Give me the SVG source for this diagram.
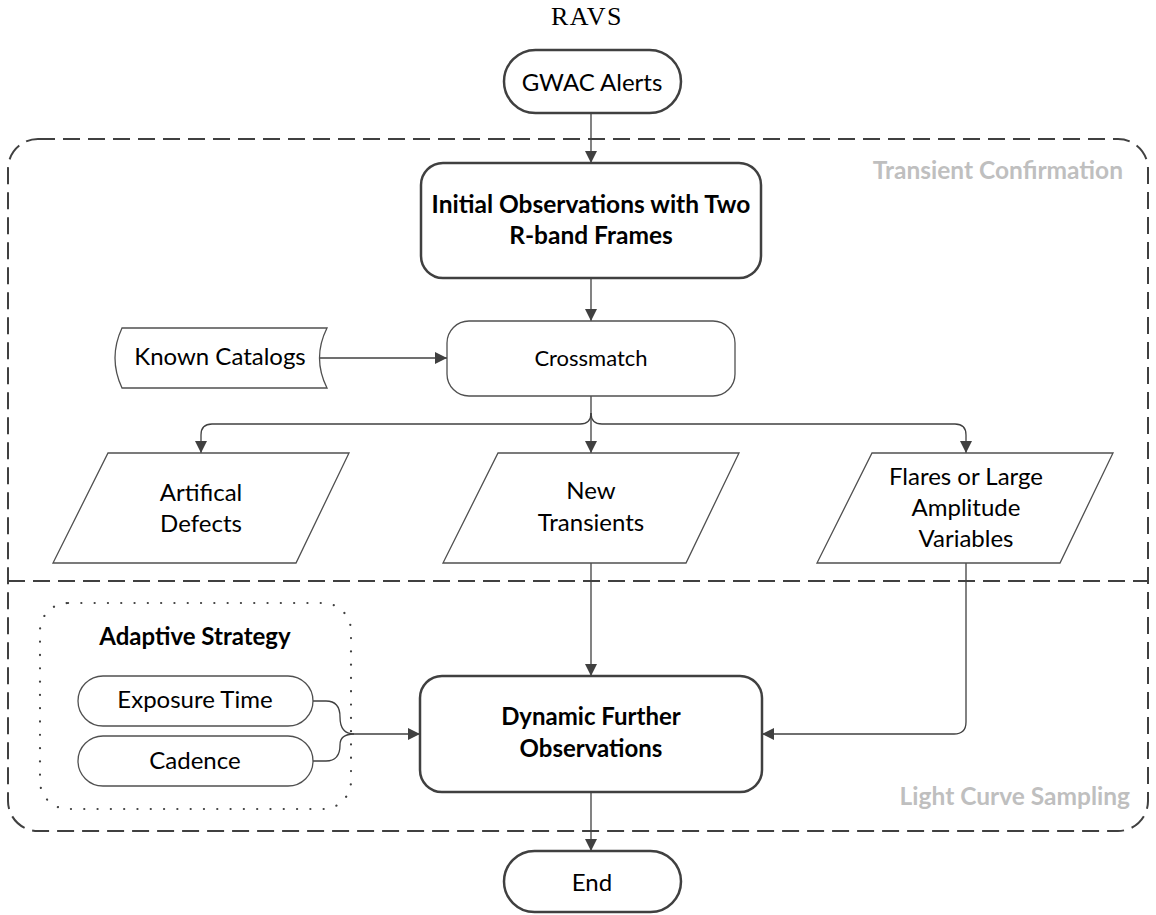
<svg xmlns="http://www.w3.org/2000/svg" width="1156" height="915" viewBox="0 0 1156 915">
<defs>
<marker id="arr" markerUnits="userSpaceOnUse" markerWidth="13" markerHeight="12" refX="12" refY="6" orient="auto">
<path d="M0,0 L12,6 L0,12 z" fill="#404040"/>
</marker>
<style>
.t{font-family:Lato,"Open Sans","Liberation Sans",sans-serif;font-size:24px;fill:#000;text-anchor:middle}
.b{font-weight:bold}
.g{font-family:Lato,"Open Sans","Liberation Sans",sans-serif;font-size:24.5px;font-weight:bold;fill:#bfbfbf;text-anchor:end}
.thick{fill:#fff;stroke:#404040;stroke-width:2.5}
.thin{fill:#fff;stroke:#505050;stroke-width:1.3}
.dash{fill:none;stroke:#404040;stroke-width:2;stroke-dasharray:17 8}
.dot{fill:none;stroke:#404040;stroke-width:2.2;stroke-dasharray:0.1 13.2;stroke-linecap:round}
.c{fill:none;stroke:#404040;stroke-width:1.3}
</style>
</defs>
<rect width="1156" height="915" fill="#fff"/>
<text x="587" y="25" style="font-family:'Liberation Serif',serif;font-size:26px;letter-spacing:1.5px;text-anchor:middle">RAVS</text>

<g id="regions">
<rect class="dash" x="8" y="139" width="1140" height="692" rx="30"/>
<path class="dash" d="M8,581 H1148"/>
<text class="g" x="1123" y="179">Transient Confirmation</text>
<text class="g" x="1130" y="805">Light Curve Sampling</text>
</g>

<g id="adaptive">
<rect class="dot" x="40" y="603" width="311" height="206" rx="28"/>
<text class="t b" x="195" y="645">Adaptive Strategy</text>
</g>

<g id="connectors">
<path class="c" marker-end="url(#arr)" d="M591,113 V163"/>
<path class="c" marker-end="url(#arr)" d="M591,278 V321"/>
<path class="c" marker-end="url(#arr)" d="M318,358 H447"/>
<path class="c" marker-end="url(#arr)" d="M591,396 V453"/>
<path class="c" marker-end="url(#arr)" d="M591,413 Q591,424 580,424 H212 Q201,424 201,435 V453"/>
<path class="c" marker-end="url(#arr)" d="M591,413 Q591,424 602,424 H955 Q966,424 966,435 V453"/>
<path class="c" marker-end="url(#arr)" d="M591,563 V676"/>
<path class="c" marker-end="url(#arr)" d="M966,563 V722 Q966,734 954,734 H762"/>
<path class="c" marker-end="url(#arr)" d="M313,701 H326 Q340,701 340,717 Q340,734 354,734 H420"/>
<path class="c" d="M313,761 H326 Q340,761 340,745 Q340,734 354,734"/>
<path class="c" marker-end="url(#arr)" d="M591,792 V851"/>
</g>

<g id="gwac">
<rect class="thick" x="504" y="50" width="177" height="63" rx="31.5"/>
<text class="t" x="592" y="91">GWAC Alerts</text>
</g>
<g id="initial">
<rect class="thick" x="421" y="163" width="340" height="115" rx="22"/>
<text class="t b" x="591" y="213" style="font-size:24.5px">Initial Observations with Two</text>
<text class="t b" x="591" y="244" style="font-size:24.5px">R-band Frames</text>
</g>
<g id="catalogs">
<path class="thin" d="M122,328 H327 Q312,358 327,388 H122 Q108,358 122,328 Z"/>
<text class="t" x="220" y="365">Known Catalogs</text>
</g>
<g id="crossmatch">
<rect class="thin" x="447" y="321" width="288" height="75" rx="22"/>
<text class="t" x="591" y="366" style="font-size:22px">Crossmatch</text>
</g>
<g id="artifical">
<path class="thin" d="M108,453 H349 L296,563 H53 Z"/>
<text class="t" x="201" y="501">Artifical</text>
<text class="t" x="201" y="532">Defects</text>
</g>
<g id="newtransients">
<path class="thin" d="M498,453 H739 L686,563 H443 Z"/>
<text class="t" x="591" y="499">New</text>
<text class="t" x="591" y="531">Transients</text>
</g>
<g id="flares">
<path class="thin" d="M872,453 H1113 L1060,563 H817 Z"/>
<text class="t" x="966" y="485">Flares or Large</text>
<text class="t" x="966" y="516">Amplitude</text>
<text class="t" x="966" y="547">Variables</text>
</g>
<g id="exposure">
<rect class="thin" x="78" y="676" width="235" height="50" rx="25"/>
<text class="t" x="195" y="708">Exposure Time</text>
</g>
<g id="cadence">
<rect class="thin" x="78" y="736" width="235" height="50" rx="25"/>
<text class="t" x="195" y="769">Cadence</text>
</g>
<g id="dynamic">
<rect class="thick" x="420" y="676" width="342" height="116" rx="22"/>
<text class="t b" x="591" y="725">Dynamic Further</text>
<text class="t b" x="591" y="757">Observations</text>
</g>
<g id="end">
<rect class="thick" x="504" y="851" width="177" height="61" rx="30.5"/>
<text class="t" x="592" y="891">End</text>
</g>
</svg>
